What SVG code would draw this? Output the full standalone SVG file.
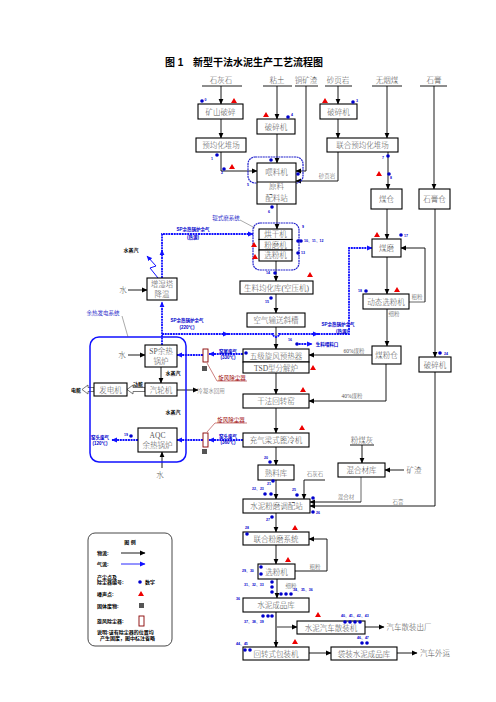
<svg xmlns="http://www.w3.org/2000/svg" width="496" height="702" viewBox="0 0 496 702">
<defs>
<marker id="ak" markerWidth="6" markerHeight="6" refX="5" refY="3" orient="auto" markerUnits="userSpaceOnUse"><path d="M0,0.6 L5.5,3 L0,5.4 Z" fill="#000"/></marker>
<marker id="ab" markerWidth="6" markerHeight="6" refX="5" refY="3" orient="auto" markerUnits="userSpaceOnUse"><path d="M0,0.6 L5.5,3 L0,5.4 Z" fill="#11f"/></marker>
<style>
.b{fill:#fff;stroke:#000;stroke-width:1.1}
.t{font-family:"Liberation Serif","Noto Sans CJK SC",serif;font-size:7.5px;fill:#555;font-weight:300;text-anchor:middle}
.s{font-family:"Liberation Serif","Noto Sans CJK SC",serif;font-size:5.5px;fill:#555;font-weight:300;text-anchor:middle}
.ln{stroke:#000;stroke-width:0.9;fill:none}
.gl{stroke:#666;stroke-width:1;fill:none}
.bl{stroke:#11f;stroke-width:1.8;stroke-dasharray:2 0.7;fill:none}
.bt{font-family:"Liberation Sans","Noto Sans CJK SC",sans-serif;font-size:4.5px;fill:#00c;font-weight:bold;text-anchor:middle}
.dot{fill:#00c}
.tri{fill:#e00}
.n{font-family:"Liberation Sans",sans-serif;font-size:3.5px;fill:#00c;font-weight:bold}
.rd{font-family:"Liberation Serif","Noto Sans CJK SC",serif;font-size:5.5px;fill:#900;text-anchor:middle}
.lg{font-family:"Liberation Sans","Noto Sans CJK SC",sans-serif;font-size:5px;fill:#000;font-weight:bold}
.cy{fill:#fff;stroke:#800;stroke-width:0.9}
.sq{fill:#555}
</style>
</defs>
<rect width="496" height="702" fill="#fff"/>

<!-- title -->
<text x="165" y="66" font-family="Liberation Sans,Noto Sans CJK SC,sans-serif" font-size="10" font-weight="bold" fill="#000">图 1</text>
<text x="193" y="66" font-family="Liberation Sans,Noto Sans CJK SC,sans-serif" font-size="10" font-weight="bold" fill="#000">新型干法水泥生产工艺流程图</text>

<!-- raw material labels -->
<g id="raw">
<text class="t" x="221" y="83" font-size="7">石灰石</text>
<text class="t" x="277" y="83" font-size="7">粘土</text>
<text class="t" x="306" y="83" font-size="7">铜矿渣</text>
<text class="t" x="338" y="83" font-size="7">砂页岩</text>
<text class="t" x="387" y="83" font-size="7">无烟煤</text>
<text class="t" x="434" y="83" font-size="7">石膏</text>
<path class="ln" d="M202,86H242M263,86H292M295,86H318M325,86H352M372,86H402M420,86H447"/>
</g>

<!-- connectors -->
<g id="connectors">
<path class="ln" d="M221,86V104" marker-end="url(#ak)"/>
<path class="ln" d="M221,119V138" marker-end="url(#ak)"/>
<path class="ln" d="M221,152V171H257" marker-end="url(#ak)"/>
<path class="ln" d="M277,86V119" marker-end="url(#ak)"/>
<path class="ln" d="M277,134V163" marker-end="url(#ak)"/>
<path class="ln" d="M306,86V171H296" marker-end="url(#ak)"/>
<path class="ln" d="M338,86V104" marker-end="url(#ak)"/>
<path class="ln" d="M338,119V138" marker-end="url(#ak)"/>
<path class="ln" d="M387,86V138" marker-end="url(#ak)"/>
<path class="ln" d="M434,86V189" marker-end="url(#ak)"/>
<path class="ln" d="M338,152V181H296" marker-end="url(#ak)"/>
<path class="ln" d="M388,152V189" marker-end="url(#ak)"/>
<path class="ln" d="M387,209V239" marker-end="url(#ak)"/>
<path class="ln" d="M387,257V294" marker-end="url(#ak)"/>
<path class="gl" d="M409,302H425"/>
<path class="ln" d="M425,302V248H401" marker-end="url(#ak)"/>
<path class="ln" d="M387,309V346" marker-end="url(#ak)"/>
<path class="ln" d="M372,355H309" marker-end="url(#ak)"/>
<path class="ln" d="M386,364V401H309" marker-end="url(#ak)"/>
<path class="ln" d="M435,209V357" marker-end="url(#ak)"/>
<path class="ln" d="M435,372V506H310" marker-end="url(#ak)"/>
<path class="ln" d="M277,204V229" marker-end="url(#ak)"/>
<path class="ln" d="M276,261V281" marker-end="url(#ak)"/>
<path class="ln" d="M276,294V313" marker-end="url(#ak)"/>
<path class="ln" d="M276,327V349" marker-end="url(#ak)"/>
<path class="ln" d="M276,373V394" marker-end="url(#ak)"/>
<path class="ln" d="M276,408V433" marker-end="url(#ak)"/>
<path class="ln" d="M276,447V465" marker-end="url(#ak)"/>
<path class="ln" d="M276,480V499" marker-end="url(#ak)"/>
<path class="ln" d="M362,445V463" marker-end="url(#ak)"/>
<path class="ln" d="M404,470H385" marker-end="url(#ak)"/>
<path class="gl" d="M361,477V502"/>
<path class="ln" d="M361,502H310" marker-end="url(#ak)"/>
<path class="ln" d="M325,480H304V499" marker-end="url(#ak)"/>
<path class="ln" d="M276,513V532" marker-end="url(#ak)"/>
<path class="ln" d="M276,545V564" marker-end="url(#ak)"/>
<path class="ln" d="M295,571H327V539H309" marker-end="url(#ak)"/>
<path class="ln" d="M277,579V598" marker-end="url(#ak)"/>
<path d="M276,612V647" stroke="#777" stroke-width="2" fill="none"/>
<path class="ln" d="M276,640V647" marker-end="url(#ak)"/>
<path d="M276,627H297" stroke="#777" stroke-width="1.5" fill="none" marker-end="url(#ak)"/>
<path class="ln" d="M365,627H384" marker-end="url(#ak)"/>
<path class="ln" d="M309,653H331" marker-end="url(#ak)"/>
<path class="ln" d="M397,653H417" marker-end="url(#ak)"/>
<path class="ln" d="M128,290H147" marker-end="url(#ak)"/>
<path class="ln" d="M128,355H145" marker-end="url(#ak)"/>
<path class="ln" d="M161,367V383" marker-end="url(#ak)"/>
<path class="ln" d="M177,390H198" marker-end="url(#ak)"/>
<path class="ln" d="M162,468V452" marker-end="url(#ak)"/>
<!-- hollow arrows -->
<polygon points="145,387.5 133,387.5 133,385 127,389.5 133,394 133,391.5 145,391.5" fill="#fff" stroke="#555" stroke-width="0.8"/>
<polygon points="94,387.5 88,387.5 88,385 82,389.5 88,394 88,391.5 94,391.5" fill="#fff" stroke="#555" stroke-width="0.8"/>
<!-- blue air flows -->
<path class="bl" d="M162,278V250" marker-end="url(#ab)"/>
<path class="bl" d="M162,252V234H253" marker-end="url(#ab)"/>
<path class="bl" d="M162,300V280" marker-end="url(#ab)"/>
<path class="bl" d="M162,345V302" marker-end="url(#ab)"/>
<path class="bl" d="M162,334H228" marker-end="url(#ab)"/>
<path class="bl" d="M228,334H273a3,3 0 0 0 6,0H318" marker-end="url(#ab)"/>
<path class="bl" d="M318,334H349V248H372" marker-end="url(#ab)"/>
<path d="M158,278L150,268L156,266L147,256" stroke="#11f" stroke-width="1" fill="none" marker-end="url(#ab)"/>
<path class="bl" d="M296,344H312" marker-end="url(#ab)"/>
<path class="bl" d="M243,354H209" marker-end="url(#ab)"/>
<path class="bl" d="M203,355H177" marker-end="url(#ab)"/>
<path class="bl" d="M243,440H209" marker-end="url(#ab)"/>
<path class="bl" d="M203,440H177" marker-end="url(#ab)"/>
<path class="bl" d="M138,440H112" marker-end="url(#ab)"/>
<!-- dashed enclosures -->
<rect x="248" y="157" width="55" height="26" rx="7" fill="none" stroke="#22c" stroke-width="1.2" stroke-dasharray="2 0.6"/>
<rect x="253" y="223" width="46" height="47" rx="7" fill="none" stroke="#22c" stroke-width="1.2" stroke-dasharray="2 0.6"/>
<rect x="90" y="337" width="96" height="125" rx="9" fill="none" stroke="#11f" stroke-width="1.5"/>
<!-- leaders -->
<path d="M240,220L255,228" stroke="#555" stroke-width="0.5" fill="none"/>
<path d="M122,316L128,337" stroke="#555" stroke-width="0.5" fill="none"/>
<path d="M207,363L217,381H247" stroke="#900" stroke-width="0.5" fill="none"/>
<path d="M207,432L215,423H247" stroke="#900" stroke-width="0.5" fill="none"/>
</g>

<!-- nodes -->
<g id="n-ksps"><rect class="b" x="198" y="104" width="45" height="15"/><text class="t" x="220.5" y="114.5">矿山破碎</text></g>
<g id="n-psj1"><rect class="b" x="257" y="119" width="38" height="15"/><text class="t" x="276" y="129.5">破碎机</text></g>
<g id="n-psj2"><rect class="b" x="320" y="104" width="37" height="15"/><text class="t" x="338.5" y="114.5">破碎机</text></g>
<g id="n-yjh"><rect class="b" x="196" y="138" width="50" height="14"/><text class="t" x="221" y="148">预均化堆场</text></g>
<g id="n-lhyjh"><rect class="b" x="327" y="138" width="71" height="14"/><text class="t" x="362.5" y="148">联合预均化堆场</text></g>
<g id="n-wlj"><rect class="b" x="257" y="163" width="39" height="41"/><line x1="257" y1="182" x2="296" y2="182" stroke="#000" stroke-width="1"/><text class="t" x="276.5" y="175">喂料机</text><text class="t" x="276.5" y="189" font-size="7">原料</text><text class="t" x="276.5" y="201" font-size="7">配料站</text></g>
<g id="n-mc"><rect class="b" x="371" y="189" width="31" height="20"/><text class="t" x="386.5" y="202">煤仓</text></g>
<g id="n-sgc"><rect class="b" x="419" y="189" width="31" height="20"/><text class="t" x="434.5" y="202">石膏仓</text></g>
<g id="n-hgj"><rect class="b" x="259" y="229" width="33" height="10.5"/><text class="t" x="275.5" y="237">烘干机</text></g>
<g id="n-fmj"><rect class="b" x="259" y="239.5" width="33" height="10.5"/><text class="t" x="275.5" y="247.5">粉磨机</text></g>
<g id="n-xfj1"><rect class="b" x="259" y="250" width="33" height="11"/><text class="t" x="275.5" y="258.3">选粉机</text></g>
<g id="n-mm"><rect class="b" x="372" y="239" width="29" height="18"/><text class="t" x="386.5" y="250.5">煤磨</text></g>
<g id="n-sljh"><rect class="b" x="240" y="281" width="73" height="13"/><text class="t" x="276.5" y="290.5">生料均化库(空压机)</text></g>
<g id="n-dtxfj"><rect class="b" x="363" y="294" width="46" height="15"/><text class="t" x="386" y="304.5">动态选粉机</text></g>
<g id="n-kqss"><rect class="b" x="247" y="313" width="58" height="14"/><text class="t" x="276" y="323">空气输送斜槽</text></g>
<g id="n-mfc"><rect class="b" x="372" y="346" width="29" height="18"/><text class="t" x="386.5" y="357.5">煤粉仓</text></g>
<g id="n-yrq"><rect class="b" x="243" y="349" width="66" height="13"/><text class="t" x="276" y="358.5">五级旋风预热器</text></g>
<g id="n-fjl"><rect class="b" x="243" y="362" width="66" height="11"/><text class="t" x="276" y="370.5" font-weight="bold" fill="#222">TSD型分解炉</text></g>
<g id="n-psj3"><rect class="b" x="419" y="357" width="32" height="15"/><text class="t" x="435" y="367.5">破碎机</text></g>
<g id="n-hzy"><rect class="b" x="243" y="394" width="66" height="14"/><text class="t" x="276" y="404">干法回转窑</text></g>
<g id="n-blj"><rect class="b" x="243" y="433" width="66" height="14"/><text class="t" x="276" y="443">充气梁式篦冷机</text></g>
<g id="n-slk"><rect class="b" x="258" y="465" width="36" height="15"/><text class="t" x="276" y="475.5">熟料库</text></g>
<g id="n-hhck"><rect class="b" x="338" y="463" width="47" height="14"/><text class="t" x="361.5" y="473">混合材库</text></g>
<g id="n-tpz"><rect class="b" x="243" y="499" width="67" height="14"/><text class="t" x="276.5" y="509">水泥粉磨调配站</text></g>
<g id="n-lhfm"><rect class="b" x="243" y="532" width="66" height="13"/><text class="t" x="276" y="541.5">联合粉磨系统</text></g>
<g id="n-xfj2"><rect class="b" x="258" y="564" width="37" height="15"/><text class="t" x="276.5" y="574.5">选粉机</text></g>
<g id="n-cpk"><rect class="b" x="243" y="598" width="66" height="14"/><text class="t" x="276" y="608">水泥成品库</text></g>
<g id="n-szj"><rect class="b" x="297" y="621" width="68" height="13"/><text class="t" x="331" y="630.5">水泥汽车散装机</text></g>
<g id="n-bzj"><rect class="b" x="243" y="647" width="66" height="13"/><text class="t" x="276" y="656.5">回转式包装机</text></g>
<g id="n-dzk"><rect class="b" x="331" y="647" width="66" height="13"/><text class="t" x="364" y="656.5">袋装水泥成品库</text></g>
<g id="n-zst"><rect class="b" x="147" y="278" width="30" height="22"/><text class="t" x="162" y="287">增湿塔</text><text class="t" x="162" y="297">降温</text></g>
<g id="n-sp"><rect class="b" x="145" y="345" width="32" height="22"/><text class="t" x="161" y="354">SP余热</text><text class="t" x="161" y="364">锅炉</text></g>
<g id="n-qlj"><rect class="b" x="145" y="383" width="32" height="13"/><text class="t" x="161" y="392.5">汽轮机</text></g>
<g id="n-fdj"><rect class="b" x="94" y="383" width="33" height="13"/><text class="t" x="110.5" y="392.5">发电机</text></g>
<g id="n-aqc"><rect class="b" x="138" y="428" width="39" height="24"/><text class="t" x="157.5" y="437.5">AQC</text><text class="t" x="157.5" y="448">余热锅炉</text></g>
<g id="n-cy1"><rect class="cy" x="203" y="349" width="5" height="13"/><rect class="sq" x="202" y="366" width="5" height="5"/></g>
<g id="n-cy2"><rect class="cy" x="203" y="433" width="5" height="14"/><rect class="sq" x="202" y="449" width="5" height="5"/></g>

<!-- labels -->
<g id="labels">
<text class="s" x="327" y="177.5">砂页岩</text>
<text class="s" x="417" y="299">粗粉</text>
<text class="s" x="394" y="316">细粉</text>
<text class="s" x="354" y="352.5" font-weight="bold">60%煤粉</text>
<text class="s" x="352" y="398" font-weight="bold">40%煤粉</text>
<text class="t" x="362" y="443" font-size="7">粉煤灰</text>
<path class="ln" d="M350,445H374"/>
<text class="t" x="414" y="472.5" font-size="7">矿渣</text>
<text class="s" x="315" y="476">石灰石</text>
<text class="s" x="346" y="498.5">混合材</text>
<text class="s" x="398" y="503.5">石膏</text>
<text class="s" x="315" y="568.5">粗粉</text>
<text class="s" x="291" y="587.5">细粉</text>
<text class="t" x="409" y="630" font-size="7">汽车散装出厂</text>
<text class="t" x="435" y="656" font-size="7">汽车外运</text>
<text class="t" x="123" y="293" font-size="7">水</text>
<text class="t" x="122" y="358" font-size="7">水</text>
<text class="t" x="160" y="478" font-size="7">水</text>
<text class="s" x="211" y="393">冷凝水回用</text>
<text class="lg" x="138" y="386" font-size="4.5" text-anchor="middle">动能</text>
<text class="lg" x="81" y="392" font-size="5" text-anchor="end">电能</text>
<text class="lg" x="131" y="252" font-size="5" text-anchor="middle">水蒸汽</text>
<text class="lg" x="173" y="375" font-size="4.5" text-anchor="middle">水蒸汽</text>
<text class="lg" x="173" y="414" font-size="4.5" text-anchor="middle">水蒸汽</text>
<text class="bt" x="193" y="231">SP余热锅炉余气</text>
<text class="bt" x="193" y="239">(热源)</text>
<text class="bt" x="187" y="322">SP余热锅炉余气</text>
<text class="bt" x="187" y="329">(220℃)</text>
<text class="bt" x="338" y="326">SP余热锅炉余气</text>
<text class="bt" x="342" y="332.5">(热源)</text>
<text class="bt" x="327" y="346" font-size="5" text-anchor="middle">生料喂料口</text>
<text class="bt" x="228" y="353">窑尾废气</text>
<text class="bt" x="228" y="359">(330℃)</text>
<text class="bt" x="228" y="438">窑头废气</text>
<text class="bt" x="228" y="444">(360℃)</text>
<text class="bt" x="100" y="439">窑头废气</text>
<text class="bt" x="100" y="445">(120℃)</text>
<text class="rd" x="232" y="379.5">旋风除尘器</text>
<text class="rd" x="231" y="421.5">旋风除尘器</text>
<text x="226" y="220" font-family="Liberation Serif,Noto Sans CJK SC,serif" font-size="5.5" fill="#33c" text-anchor="middle">辊式磨系统</text>
<text x="103" y="315" font-family="Liberation Serif,Noto Sans CJK SC,serif" font-size="5.5" fill="#33c" text-anchor="middle">余热发电系统</text>
</g>

<!-- noise points -->
<g id="noise" class="tri">
<polygon points="234,98 237,103 231,103"/>
<polygon points="266,112 269,117 263,117"/>
<polygon points="325,98 328,103 322,103"/>
<polygon points="232,164 235,169 229,169"/>
<polygon points="379,171 382,176 376,176"/>
<polygon points="254,242 257,247 251,247"/>
<polygon points="255,254 258,259 252,259"/>
<polygon points="310,272 313,277 307,277"/>
<polygon points="377,232 380,237 374,237"/>
<polygon points="397,287 400,292 394,292"/>
<polygon points="313,365 316,370 310,370"/>
<polygon points="303,387 306,392 300,392"/>
<polygon points="302,425 305,430 299,430"/>
<polygon points="295,525 298,530 292,530"/>
<polygon points="288,557 291,562 285,562"/>
<polygon points="318,612 321,617 315,617"/>
<polygon points="295,639 298,644 292,644"/>
</g>

<!-- dust points -->
<g id="dust">
<g class="dot">
<circle cx="202" cy="101" r="1.8"/><circle cx="288" cy="117" r="1.8"/><circle cx="353" cy="102" r="1.8"/>
<circle cx="217" cy="155" r="1.8"/><circle cx="224" cy="169" r="1.8"/><circle cx="271" cy="160" r="1.8"/><circle cx="298" cy="174" r="1.8"/>
<circle cx="388" cy="156" r="1.8"/><circle cx="389" cy="174" r="1.8"/><circle cx="272" cy="207" r="1.8"/>
<circle cx="298" cy="241" r="1.8"/><circle cx="301" cy="241" r="1.8"/><circle cx="298" cy="253" r="1.8"/>
<circle cx="401" cy="235" r="1.8"/><circle cx="366" cy="291" r="1.8"/><circle cx="275" cy="273" r="1.8"/><circle cx="271" cy="298" r="1.8"/>
<circle cx="297" cy="344" r="1.8"/><circle cx="246" cy="353" r="1.8"/><circle cx="440" cy="353" r="1.8"/><circle cx="131" cy="436" r="1.8"/>
<circle cx="270" cy="462" r="1.8"/><circle cx="273" cy="481" r="1.8"/><circle cx="265" cy="494" r="1.8"/><circle cx="271" cy="494" r="1.8"/><circle cx="297" cy="495" r="1.8"/>
<circle cx="313" cy="498" r="1.8"/><circle cx="313" cy="512" r="1.8"/><circle cx="272" cy="517" r="1.8"/><circle cx="247" cy="534" r="1.8"/>
<circle cx="261" cy="567" r="1.8"/><circle cx="261" cy="574" r="1.8"/>
<circle cx="272" cy="582" r="1.8"/><circle cx="272" cy="587" r="1.8"/><circle cx="272" cy="592" r="1.8"/>
<circle cx="281" cy="594" r="1.8"/><circle cx="286" cy="594" r="1.8"/><circle cx="291" cy="594" r="1.8"/>
<circle cx="263" cy="616" r="1.8"/><circle cx="268" cy="616" r="1.8"/><circle cx="272" cy="616" r="1.8"/>
<circle cx="345" cy="622" r="1.8"/><circle cx="350" cy="622" r="1.8"/><circle cx="355" cy="622" r="1.8"/><circle cx="360" cy="622" r="1.8"/>
<circle cx="245" cy="650" r="1.8"/><circle cx="250" cy="650" r="1.8"/><circle cx="362" cy="643" r="1.8"/><circle cx="367" cy="643" r="1.8"/>
</g>
<text class="n" x="204.5" y="101">0</text><text class="n" x="291" y="116">4</text><text class="n" x="356" y="102">3</text>
<text class="n" x="211" y="160">1</text><text class="n" x="221" y="174">2</text><text class="n" x="247" y="186">5</text>
<text class="n" x="382" y="159">7</text><text class="n" x="390" y="179">8</text><text class="n" x="268" y="213">6</text>
<text class="n" x="302" y="228">9</text><text class="n" x="304" y="242">10、11、12</text><text class="n" x="301" y="254">13</text>
<text class="n" x="404" y="237">17</text><text class="n" x="358" y="292">18</text><text class="n" x="266" y="274">14</text><text class="n" x="265" y="303">15</text>
<text class="n" x="288" y="341">16</text><text class="n" x="444" y="354.5">24</text><text class="n" x="124" y="436">19</text>
<text class="n" x="264" y="459">20</text><text class="n" x="267" y="485">21</text><text class="n" x="252" y="490">22、23</text><text class="n" x="292" y="491">25</text>
<text class="n" x="316" y="514">26</text><text class="n" x="266" y="521">27</text><text class="n" x="245" y="529">28</text>
<text class="n" x="242" y="572">29、30</text><text class="n" x="244" y="586">31、32、33</text><text class="n" x="293" y="591">34、35、36</text>
<text class="n" x="236" y="600">36</text><text class="n" x="244" y="623">37、38、39</text><text class="n" x="341" y="617">40、41、42、43</text>
<text class="n" x="236" y="645">44、45</text><text class="n" x="357" y="639">46、47</text>
</g>

<!-- legend -->
<g id="legend">
<rect x="88" y="533" width="84" height="113" rx="7" fill="#fff" stroke="#333" stroke-width="0.9"/>
<text class="lg" x="130" y="544" text-anchor="middle">图 例</text>
<text class="lg" x="97" y="555">物流:</text>
<path class="ln" d="M121,553H145" marker-end="url(#ak)"/>
<text class="lg" x="97" y="566">气流:</text>
<path d="M121,564H145" stroke="#11f" stroke-width="0.9" fill="none" marker-end="url(#ab)"/>
<text class="lg" x="97" y="579">产尘点及</text>
<text class="lg" x="97" y="584">除尘器编号:</text>
<circle class="dot" cx="140" cy="582" r="1.8"/>
<text class="lg" x="145" y="584" fill="#00c">数字</text>
<text class="lg" x="97" y="596">噪声点:</text>
<polygon class="tri" points="141,591 144,596 138,596"/>
<text class="lg" x="97" y="608">固体废物:</text>
<rect class="sq" x="139" y="603" width="5" height="5"/>
<text class="lg" x="97" y="623">旋风除尘器:</text>
<rect class="cy" x="139" y="616" width="5" height="10"/>
<text class="lg" x="97" y="634">说明:该有除尘器的位置均</text>
<text class="lg" x="100" y="640">产生固废，图中标注省略</text>
</g>
</svg>
